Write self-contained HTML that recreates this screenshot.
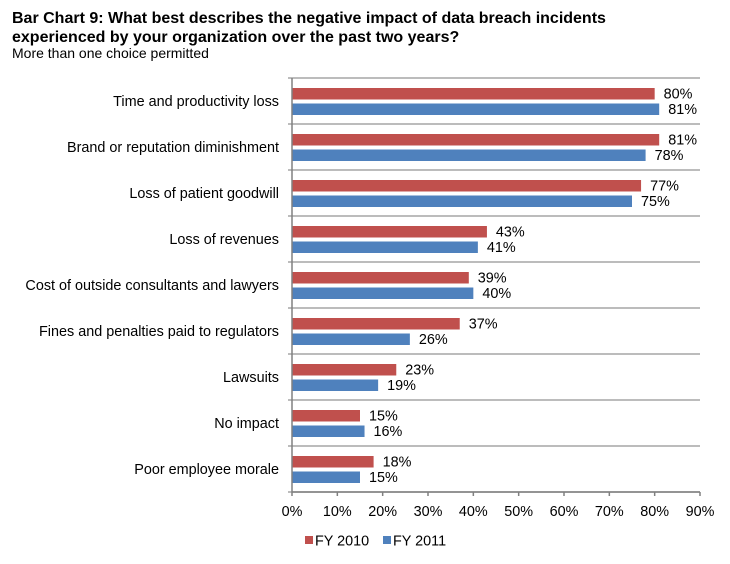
<!DOCTYPE html>
<html><head><meta charset="utf-8"><style>
body{margin:0;background:#fff;font-family:"Liberation Sans",Arial,sans-serif;}
.t{position:absolute;left:12px;top:9px;font-weight:bold;font-size:16px;line-height:19px;color:#000}
.s{position:absolute;left:12px;top:45px;font-size:14px;color:#000}
</style></head><body>
<div style="position:relative;width:730px;height:564px">
<div class="t">Bar Chart 9: What best describes the negative impact of data breach incidents<br>experienced by your organization over the past two years?</div>
<div class="s">More than one choice permitted</div>
<svg id="c" width="730" height="564" style="position:absolute;left:0;top:0"></svg>
</div>
<script>
const categories=["Time and productivity loss","Brand or reputation diminishment","Loss of patient goodwill","Loss of revenues","Cost of outside consultants and lawyers","Fines and penalties paid to regulators","Lawsuits","No impact","Poor employee morale"];
const fy2010=[80,81,77,43,39,37,23,15,18];
const fy2011=[81,78,75,41,40,26,19,16,15];
const ticks=[0,10,20,30,40,50,60,70,80,90];
const svg=document.getElementById('c');const NS='http://www.w3.org/2000/svg';
const x0=292,x1=700,y0=78,y1=492,maxV=90;
const X=v=>x0+(x1-x0)*v/maxV;
const band=(y1-y0)/categories.length;
function mk(t,a,p){const e=document.createElementNS(NS,t);for(const k in a)e.setAttribute(k,a[k]);(p||svg).appendChild(e);return e;}
for(let i=0;i<=categories.length;i++){const y=y0+i*band;
 const g=mk('line',{x1:x0-4,x2:x1,y1:y,y2:y,stroke:'#a6a6a6','stroke-width':1.5});
 
 }
categories.forEach((c,i)=>{const yt=y0+i*band;
 const l=mk('text',{x:279,y:yt+band/2+5,'text-anchor':'end','font-size':14.4,fill:'#000'});l.textContent=c;
 
 
 [[fy2010[i],'#c0504d',10],[fy2011[i],'#4f81bd',25.5]].forEach(([v,col,off],k)=>{
  const r=mk('rect',{x:x0,y:yt+off,width:X(v)-x0,height:11.5,fill:col});
  
  
  const t=mk('text',{x:X(v)+9,y:yt+off+10.5,'font-size':14.4,fill:'#000'});t.textContent=v+'%';
  
  
 });
});
const ya=mk('line',{x1:x0,x2:x0,y1:y0,y2:y1,stroke:'#808080','stroke-width':1.5});


const xa=mk('line',{x1:x0,x2:x1,y1:y1,y2:y1,stroke:'#808080','stroke-width':1.5});


ticks.forEach(v=>{
 const tk=mk('line',{x1:X(v),x2:X(v),y1:y1,y2:y1+4,stroke:'#808080','stroke-width':1.5});
 
 
 const t=mk('text',{x:X(v),y:y1+24,'text-anchor':'middle','font-size':14.4,fill:'#000'});t.textContent=v+'%';
 
 
});
[['FY 2010','#c0504d',305],['FY 2011','#4f81bd',383]].forEach(([n,c,x])=>{
 const g=mk('g',{});
 mk('rect',{x:x,y:536,width:8,height:8,fill:c},g);
 const t=mk('text',{x:x+10,y:545.5,'font-size':14.4,fill:'#000'},g);t.textContent=n;
});
</script>
</body></html>
